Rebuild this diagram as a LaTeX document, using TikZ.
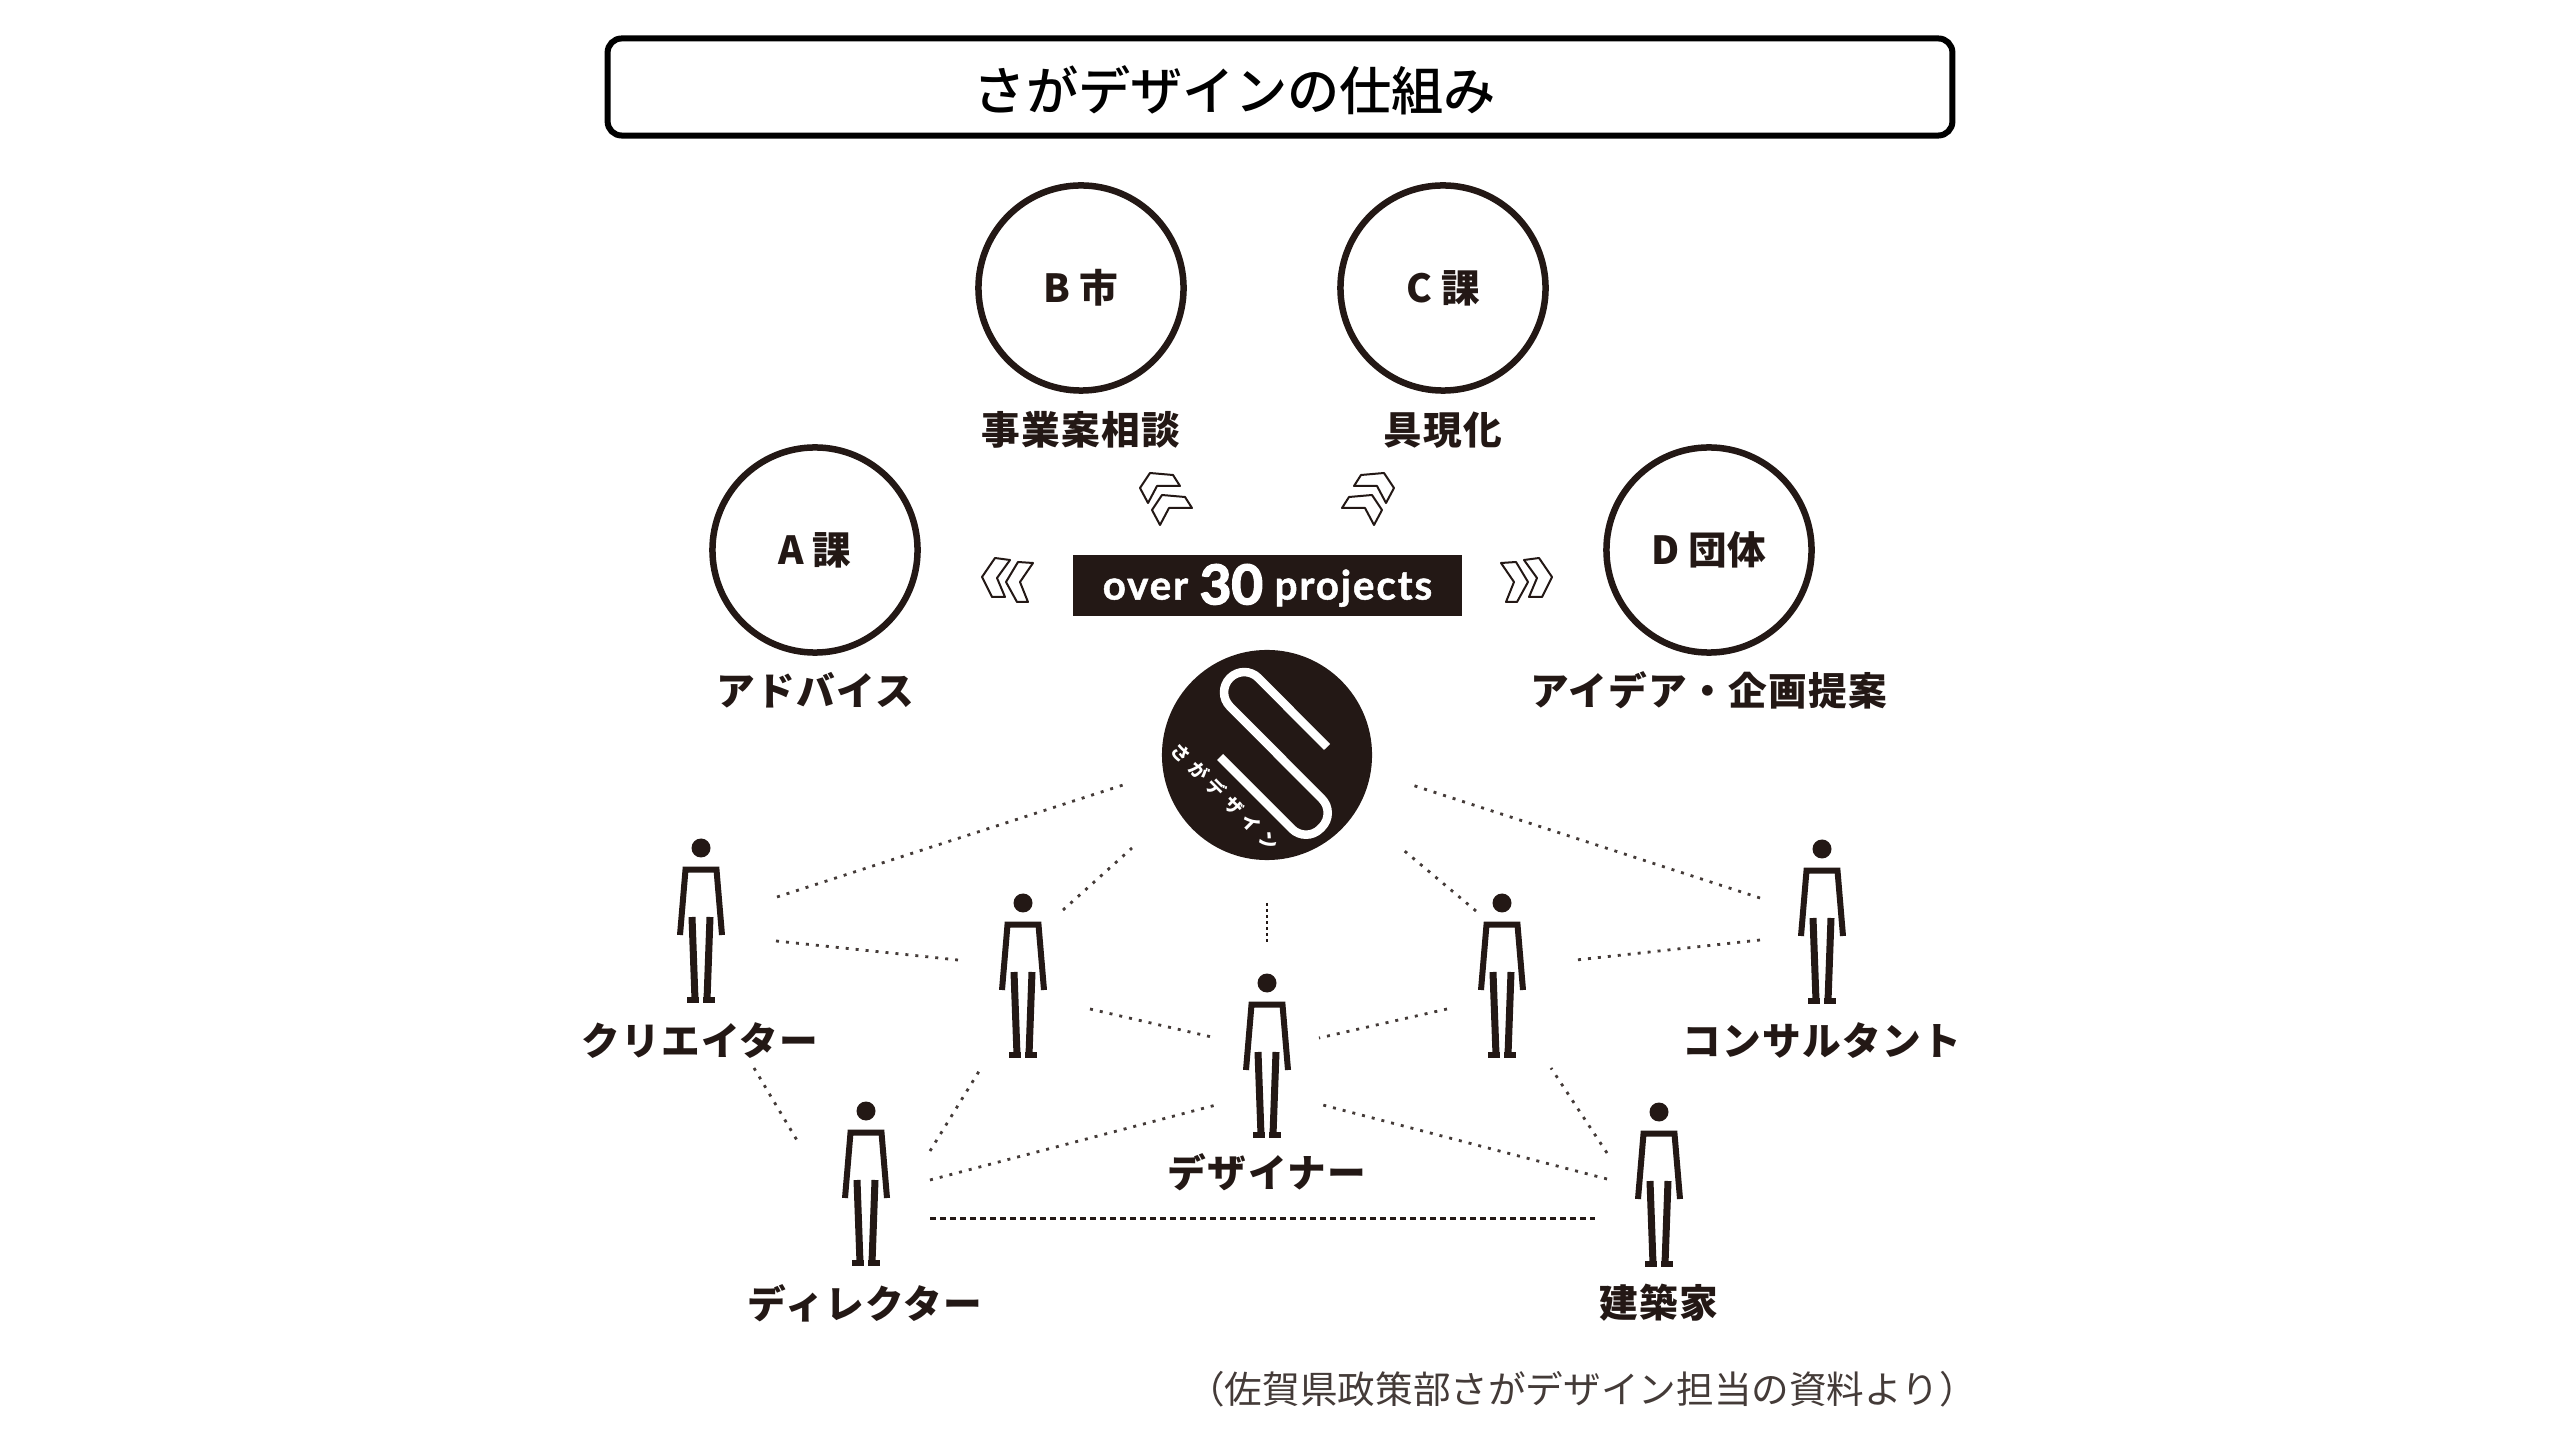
\documentclass[tikz,border=0pt]{standalone}
\usepackage{fontspec}
\setmainfont{Noto Sans CJK JP}
\newfontfamily\titlefont{Noto Sans CJK JP Medium}
\newfontfamily\latinbold[FakeBold=1.2]{Lato Bold}
\newfontfamily\latinheavy[FakeBold=3]{Lato Bold}
\usetikzlibrary{calc}
\definecolor{ink}{HTML}{231815}
\tikzset{
	orgcirc/.style={draw=ink, line width=0.065cm, circle, minimum size=2.05cm, inner sep=0pt, font=\fontsize{11}{13}\selectfont\bfseries, text=ink},
	lbl/.style={font=\fontsize{11}{13}\selectfont\bfseries\addfontfeature{LetterSpace=3.5}, text=ink, inner sep=0pt},
	chevron/.style={draw=ink, fill=white, line width=0.02cm, line join=round},
	dotline/.style={ink!85, line width=0.028cm, dash pattern=on 0.03cm off 0.07cm},
	dashline/.style={ink, line width=0.03cm, dash pattern=on 0.06cm off 0.04cm}
}
% one figure, (#1,#2) is the middle of the head
\def\person(#1,#2){
	\begin{scope}[shift={(#1,#2)}]
		\fill[ink] (0, 0) circle (9.5);
		\draw[ink, line width=0.06cm, miter limit=4] (-21, 87) -- (-15.5, 21.7) -- (15.5, 21.7) -- (21, 87);
		\draw[ink, line width=0.07cm] (-9, 69) -- (-6, 152);
		\draw[ink, line width=0.07cm] (9, 69) -- (6, 152);
		\fill[ink] (-14.3, 149) rectangle (-2, 155);
		\fill[ink] (2, 149) rectangle (14.3, 155);
	\end{scope}
}

\begin{document}
\begin{tikzpicture}[x=0.01cm, y=-0.01cm]
	%%%%% START %%%%%
	\useasboundingbox (0, 0) rectangle (2560, 1440);

	\node[draw=black, line width=0.06cm, rounded corners=0.14cm, minimum width=13.44cm, minimum height=0.97cm, inner sep=0pt] (titlebox) at (1280, 87) {};
	\node[font=\titlefont\fontsize{14.85}{17}\selectfont, inner sep=0pt] (titletext) at (1235, 90) {さがデザインの仕組み};

	\node[orgcirc] (orgb) at (1081, 288) {B 市};
	\node[orgcirc] (orgc) at (1443, 288) {C 課};
	\node[orgcirc] (orga) at (815, 550) {A 課};
	\node[orgcirc] (orgd) at (1709, 550) {D 団体};

	\node[lbl] (soudan) at (1081, 430) {事業案相談};
	\node[lbl] (gugen) at (1443, 430) {具現化};
	\node[lbl] (advice) at (815, 690) {アドバイス};
	\node[lbl] (idea) at (1709, 690) {アイデア・企画提案};

	% chevrons
	\draw[chevron] (1150, 473) -- (1173, 475) -- (1180, 486) -- (1157, 486) -- (1148, 503) -- (1140, 488) -- cycle;
	\draw[chevron] (1162, 495) -- (1185, 497) -- (1192, 508) -- (1169, 508) -- (1160, 525) -- (1152, 510) -- cycle;
	\draw[chevron] (1384, 473) -- (1361, 475) -- (1354, 486) -- (1377, 486) -- (1386, 503) -- (1394, 488) -- cycle;
	\draw[chevron] (1372, 495) -- (1349, 497) -- (1342, 508) -- (1365, 508) -- (1374, 525) -- (1382, 510) -- cycle;
	\draw[chevron] (995, 558) -- (1010, 560) -- (997, 578) -- (1005, 597) -- (992, 597) -- (982, 577) -- cycle;
	\draw[chevron] (1018, 562) -- (1033, 563) -- (1020, 582) -- (1028, 602) -- (1017, 602) -- (1006, 582) -- cycle;
	\draw[chevron] (1539, 558) -- (1524, 560) -- (1537, 578) -- (1529, 597) -- (1542, 597) -- (1552, 577) -- cycle;
	\draw[chevron] (1516, 562) -- (1501, 563) -- (1514, 582) -- (1506, 602) -- (1517, 602) -- (1528, 582) -- cycle;

	\node[fill=ink, text=white, minimum width=3.89cm, minimum height=0.61cm, inner sep=0pt, font=\latinbold\fontsize{11.5}{13}\selectfont\addfontfeature{LetterSpace=4.5}] (projects) at (1267.5, 585.5) {\raisebox{-4pt}[0pt][0pt]{over \raisebox{-1.3pt}{\latinheavy\fontsize{15.5}{17}\selectfont 30} projects}};

	% logo
	\node[fill=ink, circle, minimum size=2.1cm, inner sep=0pt] (logo) at (1267, 755) {};
	\begin{scope}[shift={(1267, 755)}]
		\draw[white, line width=0.085cm, rounded corners=0.2cm] (60, -8) -- (-22.75, -91.25) -- (-51.25, -62.75) -- (69, 58) -- (39, 88) -- (-47, 2);
		\node[white, rotate=-45, inner sep=0pt, font=\fontsize{5.2}{6}\selectfont\bfseries\addfontfeature{LetterSpace=35}] (logotext) at (-42, 42) {さがデザイン};
	\end{scope}

	% dotted ends
	\coordinate (la1) at (777, 897);	\coordinate (la2) at (1123, 785);
	\coordinate (lb1) at (776, 941);	\coordinate (lb2) at (958, 960);
	\coordinate (lc1) at (1063, 910);	\coordinate (lc2) at (1132, 848);
	\coordinate (ld1) at (754, 1068);	\coordinate (ld2) at (798, 1142);
	\coordinate (le1) at (930, 1151);	\coordinate (le2) at (981, 1068);
	\coordinate (lf1) at (930, 1180);	\coordinate (lf2) at (1216, 1105);
	\coordinate (lg1) at (1090, 1009);	\coordinate (lg2) at (1216, 1038);
	\coordinate (ra1) at (1760, 898);	\coordinate (ra2) at (1412, 785);
	\coordinate (rb1) at (1760, 940);	\coordinate (rb2) at (1576, 960);
	\coordinate (rc1) at (1476, 911);	\coordinate (rc2) at (1401, 848);
	\coordinate (re1) at (1607, 1153);	\coordinate (re2) at (1551, 1068);
	\coordinate (rf1) at (1607, 1179);	\coordinate (rf2) at (1319, 1104);
	\coordinate (rg1) at (1447, 1009);	\coordinate (rg2) at (1319, 1038);
	\coordinate (va1) at (1267, 903);	\coordinate (va2) at (1267, 944);
	\coordinate (ha1) at (930, 1218);	\coordinate (ha2) at (1595, 1218);

	\draw[dotline] (la1) -- (la2);
	\draw[dotline] (lb1) -- (lb2);
	\draw[dotline] (lc1) -- (lc2);
	\draw[dotline] (ld1) -- (ld2);
	\draw[dotline] (le1) -- (le2);
	\draw[dotline] (lf1) -- (lf2);
	\draw[dotline] (lg1) -- (lg2);
	\draw[dotline] (ra1) -- (ra2);
	\draw[dotline] (rb1) -- (rb2);
	\draw[dotline] (rc1) -- (rc2);
	\draw[dotline] (re1) -- (re2);
	\draw[dotline] (rf1) -- (rf2);
	\draw[dotline] (rg1) -- (rg2);
	\draw[ink, line width=0.028cm, dash pattern=on 0.03cm off 0.03cm] (va1) -- (va2);
	\draw[dashline] (ha1) -- (ha2);

	% people
	\person(701, 848);
	\person(1023, 903);
	\person(1267, 983);
	\person(1502, 903);
	\person(1822, 849);
	\person(866, 1111);
	\person(1659, 1112);

	\node[lbl] (creator) at (700, 1041) {クリエイター};
	\node[lbl] (consultant) at (1822, 1041) {コンサルタント};
	\node[lbl] (designer) at (1267, 1172) {デザイナー};
	\node[lbl] (director) at (865, 1303) {ディレクター};
	\node[lbl] (architect) at (1659, 1303) {建築家};

	\node[font=\fontsize{10.7}{12}\selectfont, text=ink!85, inner sep=0pt] (source) at (1582, 1389) {（佐賀県政策部さがデザイン担当の資料より）};
	%%%%% END %%%%%
\end{tikzpicture}
\end{document}
